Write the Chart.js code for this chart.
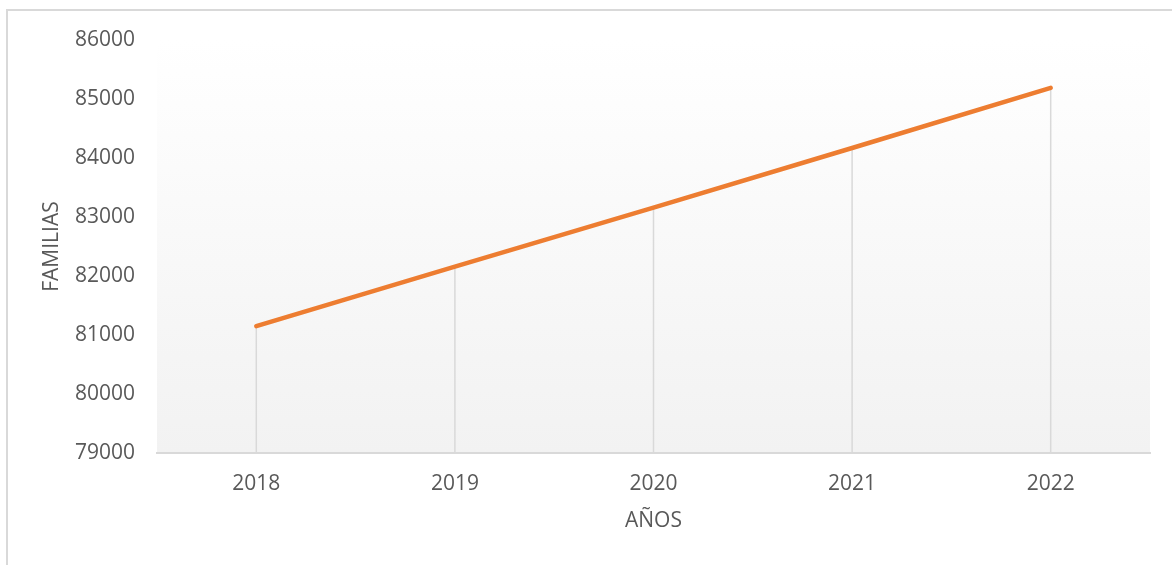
<!DOCTYPE html>
<html>
<head>
<meta charset="utf-8">
<title>Familias por año</title>
<script src="https://cdn.jsdelivr.net/npm/chart.js@4.4.1/dist/chart.umd.min.js"></script>
<style>
  html, body { margin: 0; padding: 0; background: #ffffff; }
  #wrap { position: relative; width: 1172px; height: 565px; }
</style>
</head>
<body>
<div id="wrap"><canvas id="chart"></canvas></div>
<script>
// años y número de familias
var years = ['2018', '2019', '2020', '2021', '2022'];
var familias = [81150, 82160, 83160, 84170, 85190];

// eje Y
var yMin = 79000;
var yMax = 86000;
var yStep = 1000;

var textColor = '#595959';
var lineColor = '#d9d9d9';
var fontFamily = '"Open Sans", "DejaVu Sans", sans-serif';
var fontSize = 21;

// fondo degradado del área de trazado y marco exterior
var plotBackground = {
  id: 'plotBackground',
  beforeDraw: function(chart) {
    var ctx = chart.ctx;
    var a = chart.chartArea;
    ctx.save();
    var grad = ctx.createLinearGradient(0, a.top, 0, a.bottom);
    grad.addColorStop(0, '#ffffff');
    grad.addColorStop(1, '#f2f2f2');
    ctx.fillStyle = grad;
    ctx.fillRect(a.left, a.top, a.right - a.left, a.bottom - a.top);

    ctx.strokeStyle = lineColor;
    ctx.lineWidth = 2;
    ctx.beginPath();
    ctx.moveTo(7, chart.height);
    ctx.lineTo(7, 10);
    ctx.lineTo(chart.width, 10);
    ctx.stroke();
    ctx.restore();
  }
};

// líneas de proyección desde cada punto hasta el eje X
var dropLines = {
  id: 'dropLines',
  beforeDatasetsDraw: function(chart) {
    var ctx = chart.ctx;
    var meta = chart.getDatasetMeta(0);
    var bottom = chart.scales.y.getPixelForValue(yMin);
    ctx.save();
    ctx.strokeStyle = lineColor;
    ctx.lineWidth = 1.5;
    meta.data.forEach(function(pt) {
      ctx.beginPath();
      ctx.moveTo(pt.x, pt.y);
      ctx.lineTo(pt.x, bottom);
      ctx.stroke();
    });
    ctx.restore();
  }
};

new Chart(document.getElementById('chart'), {
  type: 'line',
  data: {
    labels: years,
    datasets: [{
      label: 'FAMILIAS',
      data: familias,
      borderColor: '#ed7d31',
      borderWidth: 4.5,
      borderCapStyle: 'round',
      borderJoinStyle: 'round',
      pointRadius: 0,
      pointHoverRadius: 0,
      tension: 0,
      fill: false
    }]
  },
  options: {
    responsive: true,
    maintainAspectRatio: false,
    animation: false,
    layout: { padding: { top: 40, right: 22, left: 8, bottom: 0 } },
    plugins: {
      legend: { display: false },
      tooltip: { enabled: false }
    },
    scales: {
      x: {
        offset: true,
        grid: { display: false, drawTicks: false },
        border: { display: true, color: lineColor, width: 2 },
        ticks: {
          color: textColor,
          padding: 18,
          font: { family: fontFamily, size: fontSize }
        },
        title: {
          display: true,
          text: 'AÑOS',
          color: textColor,
          font: { family: fontFamily, size: fontSize },
          padding: { top: 0, bottom: 31 }
        },
        afterFit: function(scale) { scale.height = 112; }
      },
      y: {
        min: yMin,
        max: yMax,
        grid: { display: false, drawTicks: false },
        border: { display: false },
        ticks: {
          stepSize: yStep,
          color: textColor,
          padding: 22,
          font: { family: fontFamily, size: fontSize },
          callback: function(v) { return String(v); }
        },
        title: {
          display: true,
          text: 'FAMILIAS',
          color: textColor,
          font: { family: fontFamily, size: fontSize },
          padding: { top: 31, bottom: 0 }
        },
        afterFit: function(scale) { scale.width = 149; }
      }
    }
  },
  plugins: [plotBackground, dropLines]
});
</script>
</body>
</html>
